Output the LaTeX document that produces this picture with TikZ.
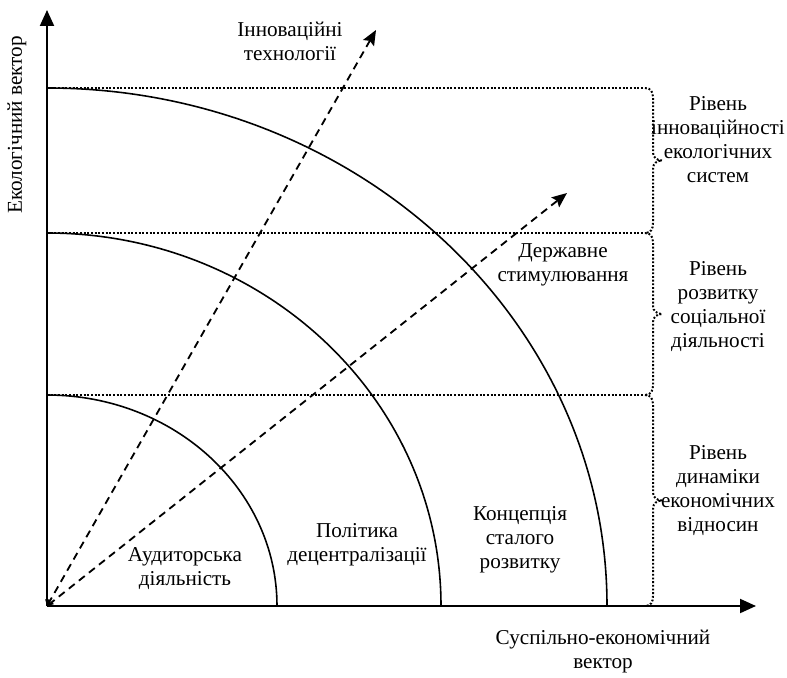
\documentclass[tikz,border=0pt]{standalone}
\usepackage{fontspec}
\setmainfont{Liberation Serif}
\usetikzlibrary{arrows.meta}
\begin{document}
\begin{tikzpicture}[x=0.6pt,y=0.6pt,
  axisline/.style={line width=1.2pt,-{Triangle[length=9.6pt,width=8.4pt]}},
  arcline/.style={line width=0.95pt},
  dasharrow/.style={line width=1.1pt,dash pattern=on 4.5pt off 3.2pt,
     {Straight Barb[length=2.5pt,width=5pt]}-{Stealth[length=9pt,width=7.5pt,inset=1.5pt]}},
  dotline/.style={line width=1.2pt,dash pattern=on 1.1pt off 1.1pt},
  lbl/.style={align=center,font=\fontsize{12.7}{14.4}\selectfont,inner sep=0pt}]
\useasboundingbox (0,0) rectangle (787,677);
% key points
\coordinate (O) at (47,71);
\coordinate (ytip) at (47,667);
\coordinate (xtip) at (756,71);
\coordinate (a1) at (277,71);
\coordinate (a2) at (441,71);
\coordinate (a3) at (607,71);
\coordinate (l1) at (47,589);
\coordinate (l2) at (47,444);
\coordinate (l3) at (47,282);
\coordinate (r1) at (645,589);
\coordinate (r2) at (645,444);
\coordinate (r3) at (645,282);
\coordinate (r4) at (645,71);
\coordinate (d1) at (376,647);
\coordinate (d2) at (567,484);
% arcs
\draw[arcline] (a1) arc[start angle=0,end angle=90,x radius=230,y radius=211];
\draw[arcline] (a2) arc[start angle=0,end angle=90,x radius=394,y radius=373];
\draw[arcline] (a3) arc[start angle=0,end angle=90,x radius=560,y radius=518];
% dotted levels
\draw[dotline] (l1) -- (r1);
\draw[dotline] (l2) -- (r2);
\draw[dotline] (l3) -- (r3);
\foreach \T/\B in {589/444,444/282,282/71}{
  \pgfmathsetmacro{\M}{(\T+\B)/2}
  \draw[dotline] (645,\T) .. controls (651,\T) and (653,\T-4) .. (653,\T-10)
     -- (653,\M+8) .. controls (653,\M+3) and (657,\M) .. (662,\M)
     .. controls (657,\M) and (653,\M-3) .. (653,\M-8)
     -- (653,\B+10) .. controls (653,\B+4) and (651,\B) .. (645,\B);
}
% axes
\draw[axisline] (O) -- (ytip);
\draw[axisline] (O) -- (xtip);
% dashed arrows
\draw[dasharrow] (O) -- (d1);
\draw[dasharrow] (O) -- (d2);
% labels
\node[lbl,rotate=90] (ylab) at (17,552) {Екологічний вектор};
\node[lbl] (xlab) at (603,25) {Суспільно-економічний\\вектор};
\node[lbl] (innov) at (290,636) {Інноваційні\\технології};
\node[lbl] (derzh) at (563,412) {Державне\\стимулювання};
\node[lbl] (lev1) at (718,537) {Рівень\\інноваційності\\екологічних\\систем};
\node[lbl] (lev2) at (718,370) {Рівень\\розвитку\\соціальної\\діяльності};
\node[lbl] (lev3) at (718,186) {Рівень\\динаміки\\економічних\\відносин};
\node[lbl] (konc) at (520,137) {Концепція\\сталого\\розвитку};
\node[lbl] (polit) at (357,132) {Політика\\децентралізації};
\node[lbl] (audit) at (185,108) {Аудиторська\\діяльність};
\end{tikzpicture}
\end{document}
